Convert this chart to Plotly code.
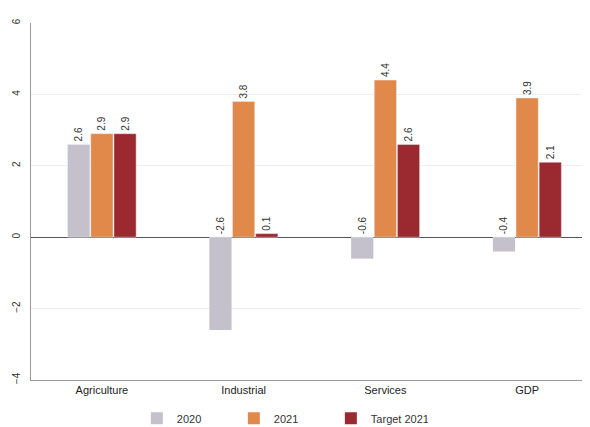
import plotly.graph_objects as go

categories = ["Agriculture", "Industrial", "Services", "GDP"]
series_names = ["2020", "2021", "Target 2021"]
v2020 = [2.6, -2.6, -0.6, -0.4]
v2021 = [2.9, 3.8, 4.4, 3.9]
vtarget = [2.9, 0.1, 2.6, 2.1]
colors = ["#c5c1cc", "#e0894a", "#9a2a30"]
y_ticks = [-4, -2, 0, 2, 4, 6]

fig = go.Figure()
for name, vals, col in zip(series_names, [v2020, v2021, vtarget], colors):
    fig.add_trace(go.Bar(
        x=categories, y=vals, name=name, marker_color=col,
        marker_line_width=0, offsetgroup=name,
    ))
# value labels placed above the bar top (or above zero for negatives)
for name, vals in zip(series_names, [v2020, v2021, vtarget]):
    fig.add_trace(go.Bar(
        x=categories, y=[max(v, 0) for v in vals], offsetgroup=name,
        marker_color="rgba(0,0,0,0)", showlegend=False, hoverinfo="skip",
        base=0, text=[f"{v:.1f}" for v in vals], textposition="outside",
        textangle=-90, textfont=dict(size=10, color="#333"),
        cliponaxis=False,
    ))

fig.update_layout(
    width=590, height=427,
    margin=dict(l=23, r=0, t=15, b=55, autoexpand=False),
    paper_bgcolor="white", plot_bgcolor="white",
    barmode="overlay",
    bargap=0.51, bargroupgap=0.04,
    font=dict(family="Liberation Sans, Arial", size=11, color="#333"),
    legend=dict(orientation="h", x=0.465, xanchor="center", xref="container",
                y=0.005, yanchor="bottom", yref="container",
                font=dict(size=11), itemwidth=30,
                entrywidth=52, entrywidthmode="pixels"),
    showlegend=True,
)
fig.update_xaxes(showline=True, linecolor="#999", ticks="", showgrid=False,
                 tickfont=dict(size=11, color="#222"), automargin=False)
fig.update_yaxes(range=[-4, 6], tickvals=y_ticks, tickangle=-90, showgrid=True,
                 gridcolor="#eeeeee", zeroline=True, zerolinecolor="#555",
                 zerolinewidth=1, showline=True, linecolor="#999",
                 tickfont=dict(size=10), automargin=False, ticklabelstandoff=6)
fig.write_html("out.html")
